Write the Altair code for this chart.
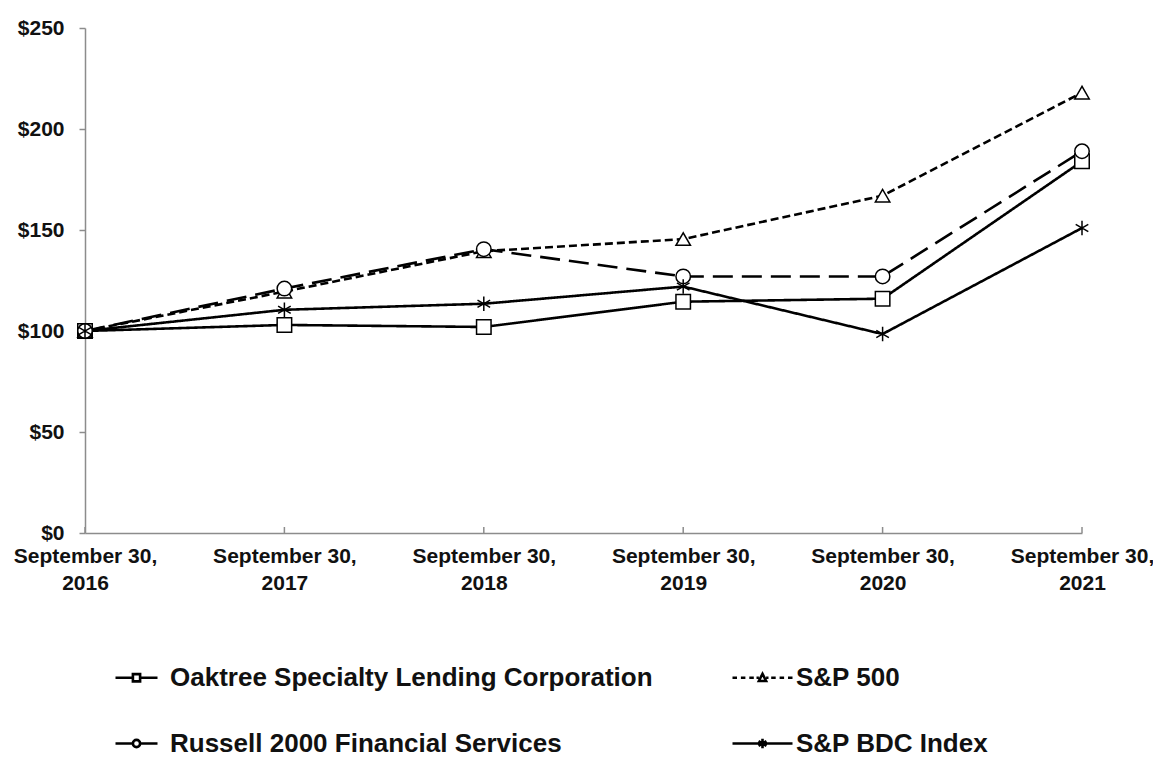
import altair as alt
import pandas as pd

# ---- data ----
dates = ["September 30, 2016", "September 30, 2017", "September 30, 2018",
         "September 30, 2019", "September 30, 2020", "September 30, 2021"]
series_names = ["Oaktree Specialty Lending Corporation", "S&P 500",
                "Russell 2000 Financial Services", "S&P BDC Index"]
oaktree = [100, 103, 102, 114.5, 116, 184]
sp500 = [100, 119.5, 139.5, 145.5, 167, 218]
russell = [100, 121, 140.5, 127, 127, 189]
bdc = [100, 110.5, 113.5, 122, 98.5, 151]
y_ticks = [0, 50, 100, 150, 200, 250]

values = [oaktree, sp500, russell, bdc]
rows = []
for name, vals in zip(series_names, values):
    for d, v in zip(dates, vals):
        rows.append({"date": d, "series": name, "value": v})
df = pd.DataFrame(rows)

# ---- styling ----
AXIS_FONT = "Liberation Sans"
LEG_FONT = "Liberation Sans"
W, H = 997, 505

asterisk = "M0,-1L0,1M-0.87,-0.5L0.87,0.5M-0.87,0.5L0.87,-0.5"
point_shapes = ["square", "triangle-up", "circle", asterisk]
dashes = [[1, 0], [8, 4], [20, 9], [1, 0]]

# legend symbols (box 60 px wide: path spans [-1, 1])
m = 0.12
s = 0.7  # left-column entries draw a shorter line
leg_shapes = [
    f"M-{s},0L-{m},0M{m},0L{s},0M-{m},-{m}L{m},-{m}L{m},{m}L-{m},{m}Z",
    f"M-1,0L-0.85,0M-0.72,0L-0.57,0M-0.44,0L-0.29,0M-0.2,0L-0.12,0"
    f"M0.12,0L0.2,0M0.29,0L0.44,0M0.57,0L0.72,0M0.85,0L1,0"
    f"M0,-{m*1.1}L{m},{m*0.9}L-{m},{m*0.9}Z",
    f"M-{s},0L-{m},0M{m},0L{s},0M{m},0A{m},{m} 0 1,1 -{m},0A{m},{m} 0 1,1 {m},0",
    f"M-1,0L1,0M0,-{m*1.3}L0,{m*1.3}M-{m*1.1},-{m*0.65}L{m*1.1},{m*0.65}"
    f"M-{m*1.1},{m*0.65}L{m*1.1},-{m*0.65}",
]

x_axis = alt.Axis(title=None, labelAngle=0, ticks=False,
                  labelExpr="[slice(datum.label, 0, 13), slice(datum.label, 14)]",
                  labelFont=AXIS_FONT, labelFontSize=21, labelFontWeight="bold",
                  labelColor="#111111", labelLineHeight=27, labelPadding=12,
                  domainColor="#8c8c8c", domainWidth=1.5, labelBaseline="top")
x_enc = alt.X("date:N", sort=dates,
              scale=alt.Scale(type="point", padding=0), axis=x_axis)
y_enc = alt.Y("value:Q",
              scale=alt.Scale(domain=[0, 250], nice=False, zero=True),
              axis=alt.Axis(title=None, values=y_ticks, grid=False,
                            labelExpr="'$' + datum.value",
                            labelFont=AXIS_FONT, labelFontSize=21, labelFontWeight="bold",
                            labelColor="#111111", labelPadding=15, tickSize=6,
                            tickColor="#8c8c8c", tickWidth=1.5,
                            domainColor="#8c8c8c", domainWidth=1.5))

base = alt.Chart(df)

lines = base.mark_line(color="black", strokeWidth=2.6).encode(
    x=x_enc, y=y_enc,
    detail="series:N",
    strokeDash=alt.StrokeDash("series:N", sort=series_names,
                              scale=alt.Scale(domain=series_names, range=dashes),
                              legend=None),
)

points = base.mark_point(filled=True, fill="white", stroke="black",
                         strokeWidth=1.5, size=210, opacity=1).encode(
    x=x_enc, y=y_enc,
    shape=alt.Shape("series:N", sort=series_names,
                    scale=alt.Scale(domain=series_names, range=point_shapes),
                    legend=None),
)

legend_layer = base.mark_point(opacity=0, filled=False).encode(
    x=x_enc, y=y_enc,
    shape=alt.Shape("series:N", sort=series_names,
                    scale=alt.Scale(domain=series_names, range=leg_shapes),
                    legend=alt.Legend(title=None, orient="none", legendX=20, legendY=618,
                                      columns=2, direction="horizontal",
                                      columnPadding=74, rowPadding=21,
                                      symbolSize=3600, symbolStrokeWidth=2.6,
                                      symbolStrokeColor="black", symbolFillColor="transparent",
                                      symbolOpacity=1, labelOffset=2,
                                      labelFont=LEG_FONT, labelFontSize=26,
                                      labelFontWeight="bold", labelColor="#111111",
                                      labelLimit=800, padding=0)),
)

xticks = alt.Chart(pd.DataFrame({"date": dates})).mark_rule(
    color="#8c8c8c", strokeWidth=1.5).encode(
    x=x_enc,
    y=alt.value(H - 6), y2=alt.value(H),
)

chart = alt.layer(xticks, lines, points, legend_layer).resolve_scale(
    shape="independent"
).properties(
    width=W, height=H,
    autosize=alt.AutoSizeParams(type="none"),
    padding={"left": 77, "top": 20, "right": 71, "bottom": 224},
    background="white",
).configure_view(stroke=None)

chart.save("out.html", embed_options={"renderer": "svg", "actions": False})
